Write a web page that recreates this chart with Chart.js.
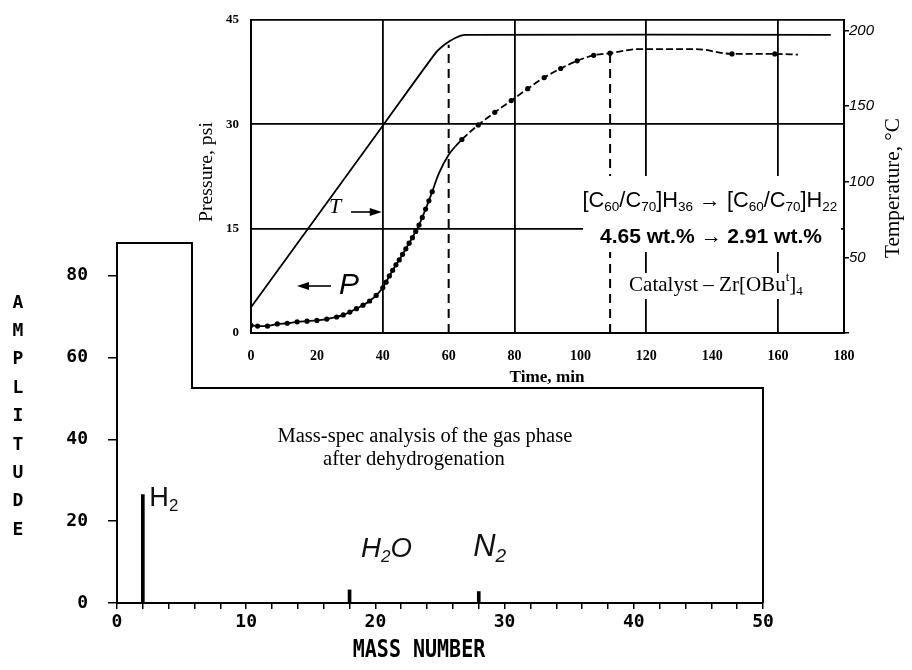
<!DOCTYPE html>
<html>
<head>
<meta charset="utf-8">
<script src="https://cdn.jsdelivr.net/npm/chart.js@4.4.1/dist/chart.umd.min.js"></script>
<style>
  html, body { margin: 0; padding: 0; background: #fff; }
  #wrap { position: relative; width: 912px; height: 670px; overflow: hidden; }
  #massChart { position: absolute; left: 0; top: 0; }
  #insetChart { position: absolute; left: 193px; top: 0; background: #fff; }
</style>
</head>
<body>
<div id="wrap">
  <canvas id="massChart" width="912" height="670"></canvas>
  <canvas id="insetChart" width="719" height="387"></canvas>
</div>
<script>
// ---- mass spectrum (big chart) ----
const massNumbers = [2, 18, 28];
const amplitudes = [26.5, 3.2, 2.8];
const amplitudeTicks = [0, 20, 40, 60, 80];
const massLabelTicks = [0, 10, 20, 30, 40, 50];

// ---- inset: pressure / temperature vs time ----
const pressureTime = [0, 2, 5, 8, 11, 14, 17, 20, 23, 26, 28, 30, 32, 34, 36, 38, 40, 41, 42, 43, 44, 45, 46, 47, 48, 49,
  50, 51, 52, 53, 54, 55, 57, 60, 62, 64, 69, 74, 79, 84, 89, 94, 99, 104, 109, 118, 135, 146, 159, 166];
const pressureValue = [1.1, 1.0, 1.0, 1.3, 1.4, 1.6, 1.7, 1.8, 2.0, 2.3, 2.6, 3.0, 3.5, 4.0, 4.6, 5.4, 6.5, 7.3, 8.2, 9.0, 9.8, 10.5, 11.3, 12.1, 12.9, 13.7,
  14.6, 15.5, 16.6, 17.8, 19.0, 20.3, 22.9, 25.6, 26.8, 27.8, 29.9, 31.7, 33.4, 35.1, 36.7, 38.0, 39.1, 39.9, 40.2, 40.8, 40.8, 40.1, 40.1, 40.0];
const unmarkedTimes = [57, 60, 62, 118, 135, 166];
const temperatureTime = [0, 40, 56, 59, 62, 65, 176];
const temperatureValue = [17, 137, 185, 191, 195, 197, 197];
const eventTimes = [60, 109];
const eventPressure = [41.4, 40.1];
const timeTicks = [0, 20, 40, 60, 80, 100, 120, 140, 160, 180];
const pressureTicks = [0, 15, 30, 45];
const temperatureTicks = [0, 50, 100, 150, 200];

const SERIF = '"Liberation Serif", "Times New Roman", serif';
const SANS = '"Liberation Sans", Arial, sans-serif';
const MONO = '"DejaVu Sans Mono", monospace';

// draws text made of normal / sub / sup pieces, scaled so it spans targetW
function richText(ctx, parts, cx, cy, targetW, family, weight, italic) {
  const st = (italic ? 'italic ' : '') + (weight || 'normal');
  const widthAt = size => {
    let w = 0;
    parts.forEach(p => {
      ctx.font = `${st} ${p[1] ? size * 0.62 : size}px ${family}`;
      w += ctx.measureText(p[0]).width;
    });
    return w;
  };
  const size = 100 * targetW / widthAt(100);
  let x = cx - targetW / 2;
  ctx.textAlign = 'left';
  ctx.textBaseline = 'middle';
  parts.forEach(p => {
    ctx.font = `${st} ${p[1] ? size * 0.62 : size}px ${family}`;
    const dy = p[1] === 'sub' ? size * 0.3 : p[1] === 'sup' ? -size * 0.35 : 0;
    ctx.fillText(p[0], x, cy + dy);
    x += ctx.measureText(p[0]).width;
  });
}

function arrow(ctx, x1, y, x2) {
  const dir = Math.sign(x2 - x1);
  ctx.beginPath();
  ctx.moveTo(x1, y);
  ctx.lineTo(x2 - dir * 8, y);
  ctx.lineWidth = 1.6;
  ctx.stroke();
  ctx.beginPath();
  ctx.moveTo(x2, y);
  ctx.lineTo(x2 - dir * 12, y - 4);
  ctx.lineTo(x2 - dir * 12, y + 4);
  ctx.closePath();
  ctx.fill();
}

// ---------- big mass-spec chart ----------
const massDecor = {
  id: 'massDecor',
  afterDraw(chart) {
    const ctx = chart.ctx;
    const a = chart.chartArea;
    const xs = chart.scales.x, ys = chart.scales.y;
    ctx.save();
    ctx.strokeStyle = '#000';
    ctx.fillStyle = '#000';
    // outer frame, notched where the inset is pasted on
    ctx.lineWidth = 2;
    ctx.beginPath();
    ctx.moveTo(a.left, a.top);
    ctx.lineTo(192, a.top);
    ctx.lineTo(192, 388);
    ctx.lineTo(a.right, 388);
    ctx.lineTo(a.right, a.bottom);
    ctx.stroke();

    // vertical axis title, one letter per line
    ctx.font = `bold 18px ${MONO}`;
    ctx.textAlign = 'center';
    ctx.textBaseline = 'middle';
    'AMPLITUDE'.split('').forEach((ch, i) => ctx.fillText(ch, 18, 303 + i * 28.4));

    ctx.save();
    ctx.translate(419, 650);
    ctx.scale(1, 1.25);
    ctx.font = `bold 20px ${MONO}`;
    ctx.fillText('MASS NUMBER', 0, 0);
    ctx.restore();

    richText(ctx, [['Mass-spec analysis of the gas phase']], 425, 437, 295, SERIF);
    richText(ctx, [['after dehydrogenation']], 414, 460, 182, SERIF);

    // peak labels
    ctx.fillStyle = '#111';
    richText(ctx, [['H'], ['2', 'sub']], xs.getPixelForValue(massNumbers[0]) + 21, ys.getPixelForValue(amplitudes[0]) + 4, 29, SANS, '300');
    richText(ctx, [['H'], ['2', 'sub'], ['O']], xs.getPixelForValue(massNumbers[1]) + 37, 549, 51, SANS, '300', true);
    richText(ctx, [['N'], ['2', 'sub']], xs.getPixelForValue(massNumbers[2]) + 11, 547, 33, SANS, '300', true);
    ctx.restore();
  }
};

new Chart(document.getElementById('massChart'), {
  type: 'bar',
  data: {
    datasets: [{
      data: massNumbers.map((m, i) => ({ x: m, y: amplitudes[i] })),
      backgroundColor: '#000',
      barThickness: 3
    }]
  },
  options: {
    responsive: false,
    animation: false,
    layout: { padding: { top: 243, right: 149 } },
    plugins: { legend: { display: false }, tooltip: { enabled: false } },
    scales: {
      x: {
        type: 'linear', min: 0, max: 50, offset: false,
        afterFit: s => { s.height = 67; },
        ticks: {
          stepSize: 2, autoSkip: false, maxRotation: 0, minRotation: 0,
          padding: 3, color: '#000',
          font: { family: MONO, weight: 'bold', size: 18 },
          callback: v => massLabelTicks.includes(v) ? String(v) : ''
        },
        grid: { drawOnChartArea: false, offset: false, tickLength: 6, color: '#000', lineWidth: 1.5 },
        border: { color: '#000', width: 2 }
      },
      y: {
        min: 0, max: 88,
        afterFit: s => { s.width = 117; },
        afterBuildTicks: s => { s.ticks = amplitudeTicks.map(v => ({ value: v })); },
        ticks: { padding: 20, color: '#000', font: { family: MONO, weight: 'bold', size: 18 } },
        grid: { drawOnChartArea: false, tickLength: 9, color: '#000', lineWidth: 1.5 },
        border: { color: '#000', width: 2 }
      }
    }
  },
  plugins: [massDecor]
});

// ---------- inset chart ----------
const insetDecor = {
  id: 'insetDecor',
  afterDraw(chart) {
    const ctx = chart.ctx;
    const xs = chart.scales.x;
    ctx.save();
    ctx.fillStyle = '#000';
    ctx.strokeStyle = '#000';

    // axis titles
    ctx.save();
    ctx.translate(14, 172);
    ctx.rotate(-Math.PI / 2);
    richText(ctx, [['Pressure, psi']], 0, 0, 100, SERIF);
    ctx.restore();
    ctx.save();
    ctx.translate(700, 188);
    ctx.rotate(-Math.PI / 2);
    richText(ctx, [['Temperature, \u00B0C']], 0, 0, 140, SERIF);
    ctx.restore();
    richText(ctx, [['Time, min']], 354, 378, 75, SERIF, 'bold');

    // curve labels with arrows
    ctx.font = `italic 22px ${SERIF}`;
    ctx.textAlign = 'center';
    ctx.textBaseline = 'middle';
    ctx.fillText('T', 142, 207);
    arrow(ctx, 158, 212, xs.getPixelForValue(40) - 1);
    ctx.font = `italic 30px ${SANS}`;
    ctx.fillText('P', 156, 286);
    arrow(ctx, 138, 286, 104);

    // annotation block on white ground
    ctx.fillStyle = '#fff';
    ctx.fillRect(390, 176, 258, 76);
    ctx.fillRect(434, 273, 179, 26);
    ctx.fillStyle = '#000';
    richText(ctx, [['[C'], ['60', 'sub'], ['/C'], ['70', 'sub'], [']H'], ['36', 'sub'], [' \u2192 [C'], ['60', 'sub'], ['/C'], ['70', 'sub'], [']H'], ['22', 'sub']],
      517, 201, 255, SANS);
    richText(ctx, [['4.65 wt.% \u2192 2.91 wt.%']], 518, 237, 222, SANS, 'bold');
    richText(ctx, [['Catalyst \u2013 Zr[OBu'], ['t', 'sup'], [']'], ['4', 'sub']], 523, 285, 174, SERIF);
    ctx.restore();
  }
};

const eventSets = eventTimes.map((t, i) => ({
  data: [{ x: t, y: 0 }, { x: t, y: eventPressure[i] }],
  yAxisID: 'yP',
  borderColor: '#000',
  borderWidth: 2,
  borderDash: [9, 6],
  pointRadius: 0
}));

new Chart(document.getElementById('insetChart'), {
  type: 'line',
  data: {
    datasets: [
      {
        label: 'T',
        data: temperatureTime.map((t, i) => ({ x: t, y: temperatureValue[i] })),
        yAxisID: 'yT',
        borderColor: '#000',
        borderWidth: 1.8,
        pointRadius: 0,
        tension: 0.2
      },
      {
        label: 'P',
        data: pressureTime.map((t, i) => ({ x: t, y: pressureValue[i] })),
        yAxisID: 'yP',
        borderColor: '#000',
        backgroundColor: '#000',
        borderWidth: 1.8,
        cubicInterpolationMode: 'monotone',
        pointRadius: c => unmarkedTimes.includes(c.raw.x) ? 0 : 2.6,
        pointBorderWidth: 0,
        segment: { borderDash: c => c.p0.parsed.x >= 62 ? [7, 3] : undefined }
      },
      ...eventSets
    ]
  },
  options: {
    responsive: false,
    animation: false,
    layout: { padding: { top: 18 } },
    plugins: { legend: { display: false }, tooltip: { enabled: false } },
    scales: {
      x: {
        type: 'linear', min: 0, max: 180,
        afterFit: s => { s.height = 54; },
        afterBuildTicks: s => { s.ticks = timeTicks.map(v => ({ value: v })); },
        ticks: { padding: 15, color: '#000', font: { family: SERIF, weight: 'bold', size: 14 } },
        grid: {
          drawTicks: false, lineWidth: 1.8,
          color: c => (c.tick && c.tick.value > 0 && c.tick.value % 40 === 0) ? '#000' : 'rgba(0,0,0,0)'
        },
        border: { color: '#000', width: 2 }
      },
      yP: {
        position: 'left', min: 0, max: 45,
        afterFit: s => { s.width = 58; },
        afterBuildTicks: s => { s.ticks = pressureTicks.map(v => ({ value: v })); },
        ticks: { padding: 12, color: '#000', font: { family: SERIF, weight: 'bold', size: 13 } },
        grid: { drawTicks: false, color: '#000', lineWidth: 1.8 },
        border: { color: '#000', width: 2 }
      },
      yT: {
        position: 'right', min: 0, max: 207,
        afterFit: s => { s.width = 68; },
        afterBuildTicks: s => { s.ticks = temperatureTicks.map(v => ({ value: v })); },
        ticks: {
          padding: 0, color: '#000', font: { family: SANS, style: 'italic', size: 15 },
          callback: v => v === 0 ? '' : String(v)
        },
        grid: { drawOnChartArea: false, tickLength: 5, color: '#000', lineWidth: 1.5 },
        border: { color: '#000', width: 2 }
      }
    }
  },
  plugins: [insetDecor]
});
</script>
</body>
</html>
